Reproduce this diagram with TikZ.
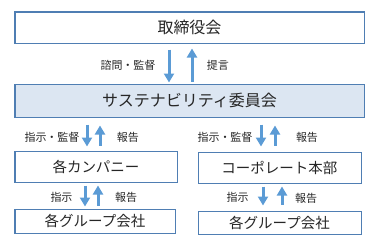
\documentclass[tikz,border=0pt]{standalone}
\usepackage{fontspec}
\setmainfont{Noto Sans CJK JP}
\usepackage{xcolor}
\definecolor{BoxEdge}{HTML}{4F7EB3}
\definecolor{BoxFill}{HTML}{DCE6F2}
\definecolor{FlowBlue}{HTML}{5B9BD5}
\definecolor{InkGray}{HTML}{262626}
\usetikzlibrary{arrows.meta, calc}

\begin{document}
\begin{tikzpicture}[
    x=1pt, y=-1pt,
    box/.style={draw=BoxEdge, line width=1pt, fill=white, inner sep=0pt,
                text=InkGray, font=\fontsize{14.5pt}{16pt}\selectfont},
    bigbox/.style={box, font=\fontsize{16pt}{18pt}\selectfont},
    hub/.style={bigbox, fill=BoxFill},
    flow/.style={draw=FlowBlue, line width=3pt, -{Triangle[width=10pt, length=9pt]}},
    lbl/.style={font=\fontsize{11pt}{12pt}\selectfont, text=InkGray, inner sep=0pt},
]
% canvas 376 x 241
\useasboundingbox (0,0) rectangle (376,241);

% Boxes
\node[bigbox, minimum width=349pt, minimum height=31pt] (board) at (189.5,27.5) {取締役会};
\node[hub, minimum width=349pt, minimum height=33pt] (committee) at (189.5,100.5) {サステナビリティ委員会};
\node[box, minimum width=162pt, minimum height=31pt] (company) at (96,166.5) {各カンパニー};
\node[box, minimum width=163pt, minimum height=31pt] (corporate) at (279.5,167.5) {コーポレート本部};
\node[box, minimum width=160pt, minimum height=24pt] (grpL) at (95,221) {各グループ会社};
\node[box, minimum width=163pt, minimum height=23pt] (grpR) at (279.5,222.5) {各グループ会社};

% Board <-> committee
\draw[flow] ($(board.south)+(-20.5,6)$) -- ($(committee.north)+(-20.5,-1)$);
\draw[flow] ($(committee.north)+(2.5,-2)$) -- ($(board.south)+(2.5,5)$);
\node[lbl] (ask) at (128,65) {諮問・監督};
\node[lbl] (propose) at (218,65) {提言};

% Committee <-> companies
\draw[flow] ($(company.north |- committee.south)+(-9,7)$) -- ($(company.north)+(-9,-4)$);
\draw[flow] ($(company.north)+(4,-5)$) -- ($(company.north |- committee.south)+(4,8)$);
\node[lbl] (instrA) at (52,137) {指示・監督};
\node[lbl] (reportA) at (128,137) {報告};

% Committee <-> corporate
\draw[flow] ($(corporate.north |- committee.south)+(-18.5,7)$) -- ($(corporate.north)+(-18.5,-5)$);
\draw[flow] ($(corporate.north)+(-4.5,-6)$) -- ($(corporate.north |- committee.south)+(-4.5,8)$);
\node[lbl] (instrB) at (225,137) {指示・監督};
\node[lbl] (reportB) at (307,137) {報告};

% Companies <-> group companies
\draw[flow] ($(grpL.north |- company.south)+(-10,3)$) -- ($(grpL.north)+(-10,-2)$);
\draw[flow] ($(grpL.north)+(3,-3)$) -- ($(grpL.north |- company.south)+(3,3)$);
\node[lbl] (instrC) at (61.5,197) {指示};
\node[lbl] (reportC) at (126,197) {報告};

% Corporate <-> group companies
\draw[flow] ($(grpR.north |- corporate.south)+(-16.5,3)$) -- ($(grpR.north)+(-16.5,-5)$);
\draw[flow] ($(grpR.north)+(2.5,-6)$) -- ($(grpR.north |- corporate.south)+(2.5,3)$);
\node[lbl] (instrD) at (237.5,197) {指示};
\node[lbl] (reportD) at (306,198) {報告};

\end{tikzpicture}
\end{document}
